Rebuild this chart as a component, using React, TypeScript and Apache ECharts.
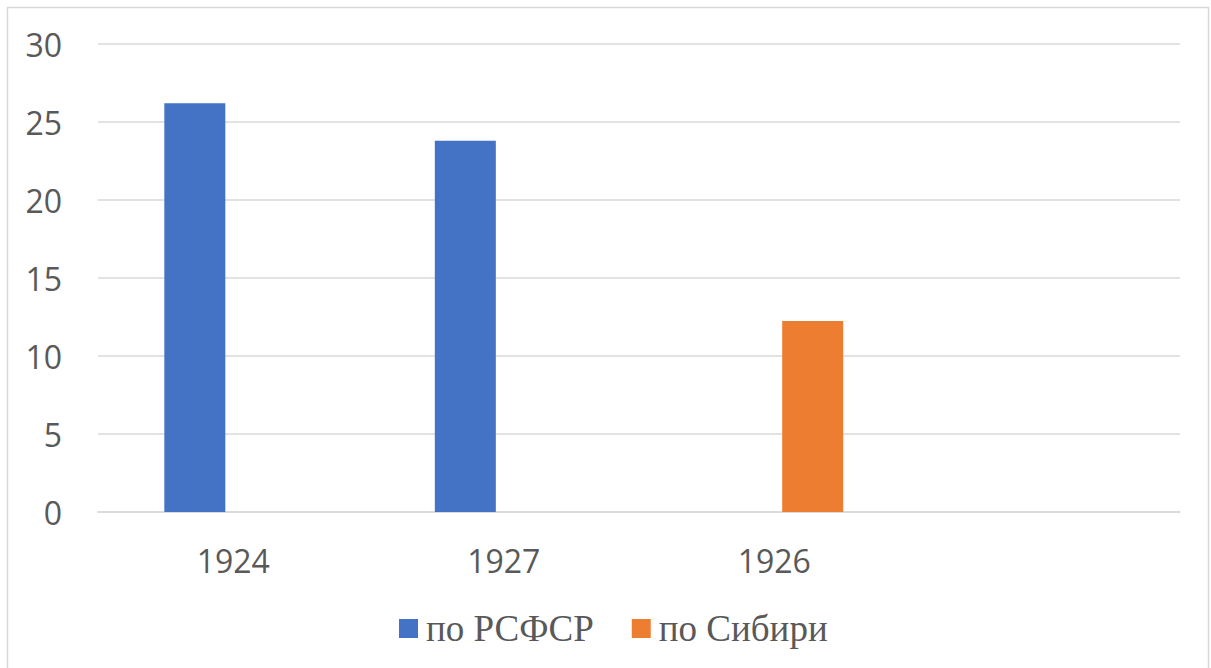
import React, { useEffect, useRef } from "react";
import * as echarts from "echarts";

const categories = ["1924", "1927", "1926", ""];
const rsfsrValues = [26.2, 23.8, null, null];
const siberiaValues = [null, null, 12.25, null];
const seriesNames = ["по РСФСР", "по Сибири"];

export default function App() {
  const ref = useRef<HTMLDivElement>(null);
  useEffect(() => {
    const chart = echarts.init(ref.current!, null, { renderer: "svg" });
    chart.setOption({
      animation: false,
      backgroundColor: "#ffffff",
      graphic: [
        {
          type: "rect",
          shape: { x: 7.5, y: 7.5, width: 1201, height: 670 },
          style: { fill: "none", stroke: "#d9d9d9", lineWidth: 1.5 },
          silent: true,
        },
      ],
      grid: { left: 98, right: 31, top: 44, bottom: 156 },
      legend: {
        left: 394,
        top: 605,
        itemWidth: 19,
        itemHeight: 19,
        itemGap: 38,
        icon: "rect",
        textStyle: {
          fontFamily: "Liberation Serif",
          fontSize: 37,
          color: "#595959",
          padding: [0, 0, 0, 3],
        },
        data: seriesNames,
      },
      xAxis: {
        type: "category",
        data: categories,
        axisLine: { lineStyle: { color: "#d9d9d9", width: 1.5 } },
        axisTick: { show: false },
        axisLabel: {
          margin: 32,
          fontFamily: "Open Sans",
          fontSize: 32,
          color: "#595959",
        },
      },
      yAxis: {
        type: "value",
        min: 0,
        max: 30,
        interval: 5,
        axisLine: { show: false },
        axisTick: { show: false },
        splitLine: { lineStyle: { color: "#d9d9d9", width: 1.5 } },
        axisLabel: {
          margin: 36,
          fontFamily: "Open Sans",
          fontSize: 32,
          color: "#595959",
        },
      },
      series: [
        {
          name: seriesNames[0],
          type: "bar",
          data: rsfsrValues,
          barWidth: 61,
          barGap: "26%",
          itemStyle: { color: "#4472c4" },
        },
        {
          name: seriesNames[1],
          type: "bar",
          data: siberiaValues,
          barWidth: 61,
          barGap: "26%",
          itemStyle: { color: "#ed7d31" },
        },
      ],
    });
    return () => chart.dispose();
  }, []);
  return (
    <div
      ref={ref}
      style={{ position: "fixed", left: 0, top: 0, width: 1211, height: 668 }}
    />
  );
}
